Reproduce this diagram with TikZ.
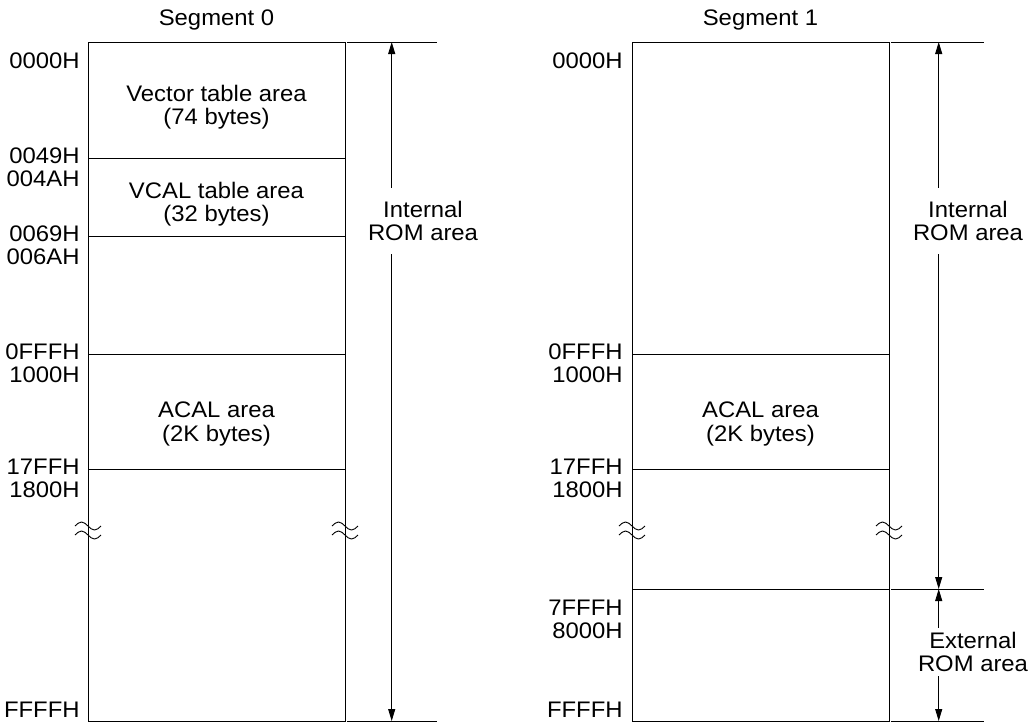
\documentclass[tikz,border=0pt]{standalone}
\usepackage{fontspec}
\setmainfont{Liberation Sans}[FakeStretch=1.06]
\usetikzlibrary{arrows.meta}

\begin{document}
\begin{tikzpicture}[
  x=1pt, y=-1pt,
  line width=0.9pt,
  every node/.style={font=\fontsize{22.5}{23.5}\selectfont, inner sep=0pt},
  addr/.style={anchor=base east},
  area/.style={align=center},
  span/.style={align=center, fill=white, inner xsep=3pt},
  dim/.style={{Triangle[length=12pt,width=7pt]}-{Triangle[length=12pt,width=7pt]}}
]
\useasboundingbox (0,0) rectangle (1033,724);

% segment 0
\node[anchor=base] (seg0) at (216.5,25) {Segment 0};
\draw (88,42) rectangle (345,721);
\foreach \ly in {158,236,354,469}
  \draw (88,\ly) -- (345,\ly);
\coordinate (t0) at (391.7,42);
\coordinate (b0) at (391.7,721);
\draw (347,42) -- (437,42);
\draw (347,721) -- (437,721);
\draw[dim] (b0) -- (t0);

\node[area] (vec)  at (216.5,107) {Vector table area\\(74 bytes)};
\node[area] (vcal) at (216.5,204) {VCAL table area\\(32 bytes)};
\node[area] (acal0) at (216.5,424) {ACAL area\\(2K bytes)};
\node[span, inner ysep=13pt] (int0) at (423,221) {Internal\\ROM area};

\node[addr] (a00) at (80,68)  {0000H};
\node[addr] (a01) at (80,163) {0049H};
\node[addr] (a02) at (80,186) {004AH};
\node[addr] (a03) at (80,241) {0069H};
\node[addr] (a04) at (80,264) {006AH};
\node[addr] (a05) at (80,359) {0FFFH};
\node[addr] (a06) at (80,382) {1000H};
\node[addr] (a07) at (80,474) {17FFH};
\node[addr] (a08) at (80,497) {1800H};
\node[addr] (a09) at (80,717) {FFFFH};

% segment 1
\node[anchor=base] (seg1) at (760.5,25) {Segment 1};
\draw (632,42) rectangle (889,721);
\foreach \ly in {354,469,589}
  \draw (632,\ly) -- (889,\ly);
\coordinate (t1) at (938.7,42);
\coordinate (m1) at (938.7,589);
\coordinate (b1) at (938.7,721);
\draw (891,42) -- (984,42);
\draw (891,589) -- (984,589);
\draw (891,721) -- (984,721);
\draw[dim] (m1) -- (t1);
\draw[dim] (b1) -- (m1);

\node[area] (acal1) at (760.5,424) {ACAL area\\(2K bytes)};
\node[span, inner ysep=13pt] (int1) at (968,221) {Internal\\ROM area};
\node[span, inner ysep=4pt] (ext1) at (973,652) {External\\ROM area};

\node[addr] (a10) at (623,68)  {0000H};
\node[addr] (a11) at (623,359) {0FFFH};
\node[addr] (a12) at (623,382) {1000H};
\node[addr] (a13) at (623,474) {17FFH};
\node[addr] (a14) at (623,497) {1800H};
\node[addr] (a15) at (623,615) {7FFFH};
\node[addr] (a16) at (623,638) {8000H};
\node[addr] (a17) at (623,717) {FFFFH};

% breaks
\foreach \bx in {88,345,632,889}
  \foreach \by in {526,535}
    \draw (\bx-13,\by) sin (\bx-6.5,\by-4) cos (\bx,\by) sin (\bx+6.5,\by+4) cos (\bx+13,\by);
\end{tikzpicture}
\end{document}
